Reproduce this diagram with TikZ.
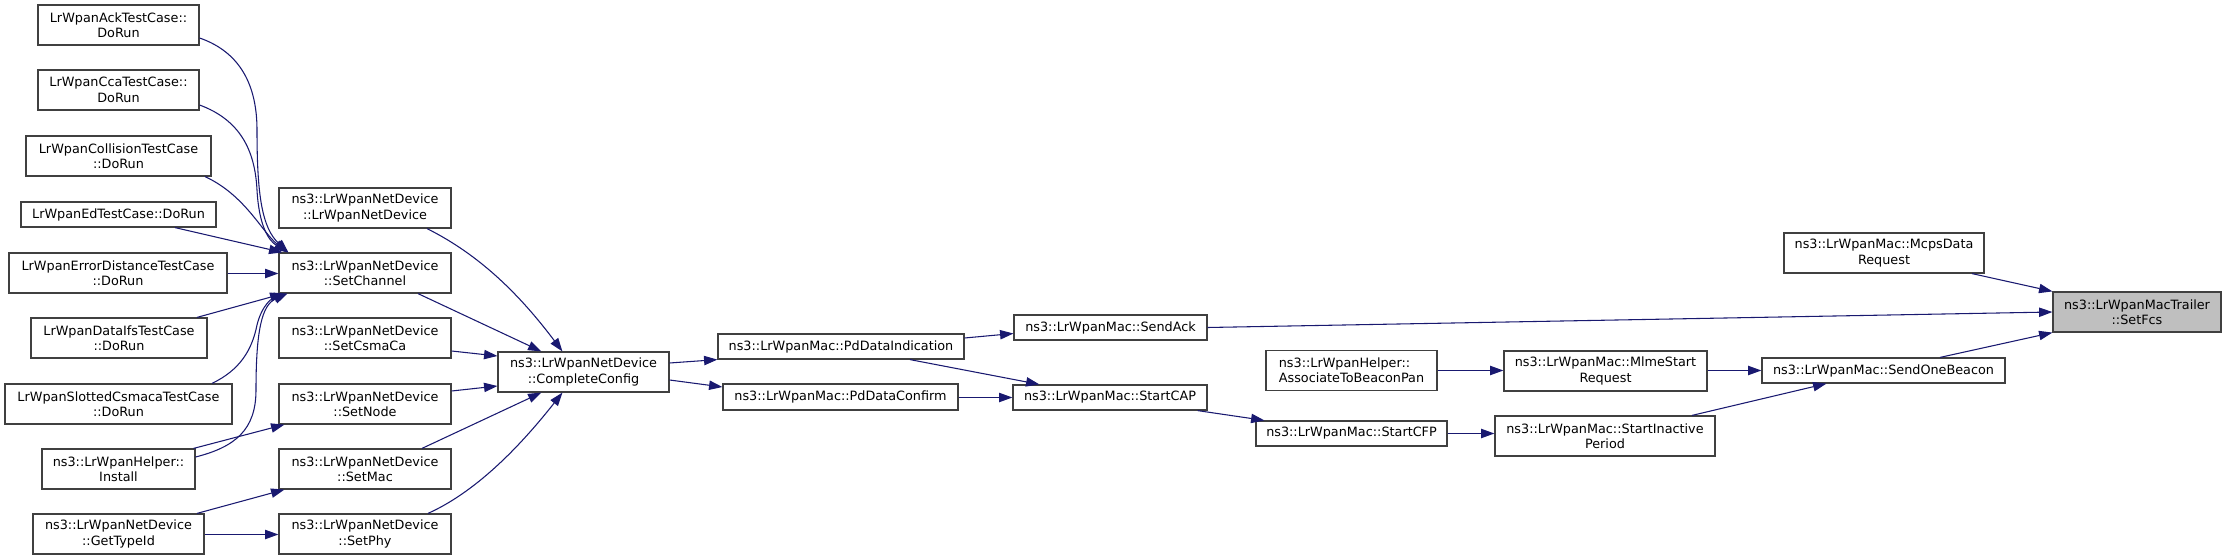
\documentclass[tikz,border=0pt]{standalone}
\usepackage{fontspec}
\setmainfont{DejaVu Sans}
\usetikzlibrary{calc,arrows.meta}
\definecolor{edgecol}{HTML}{191970}
\definecolor{boxline}{HTML}{404040}
\definecolor{hilite}{HTML}{BFBFBF}
\tikzset{
  box/.style={draw=boxline, line width=0.9pt, fill=white, inner sep=0pt, align=center,
    font=\fontsize{9.6pt}{11.5pt}\selectfont, text=black},
  wh/.style 2 args={minimum width=#1*0.75pt, minimum height=#2*0.75pt},
  conn/.style={draw=edgecol, line width=0.8pt, -{Triangle[length=10pt,width=7pt]}}
}
\begin{document}
\begin{tikzpicture}[x=0.75pt,y=-0.75pt]
\useasboundingbox (0,0) rectangle (2227,560);
% left column
\node[box,wh={161}{40}] (ack) at (118.5,25) {LrWpanAckTestCase::\\DoRun};
\node[box,wh={161}{40}] (cca) at (118.5,90) {LrWpanCcaTestCase::\\DoRun};
\node[box,wh={185}{40}] (coll) at (118.5,156) {LrWpanCollisionTestCase\\::DoRun};
\node[box,wh={195}{25}] (ed) at (118.5,214.5) {LrWpanEdTestCase::DoRun};
\node[box,wh={218}{40}] (errd) at (118,273) {LrWpanErrorDistanceTestCase\\::DoRun};
\node[box,wh={176}{40}] (dataifs) at (119,338) {LrWpanDataIfsTestCase\\::DoRun};
\node[box,wh={227}{40}] (slot) at (118.5,404) {LrWpanSlottedCsmacaTestCase\\::DoRun};
\node[box,wh={153}{40}] (install) at (118.5,469) {ns3::LrWpanHelper::\\Install};
\node[box,wh={171}{40}] (gettype) at (118.5,534) {ns3::LrWpanNetDevice\\::GetTypeId};
% second column
\node[box,wh={172}{40}] (ctor) at (365,208) {ns3::LrWpanNetDevice\\::LrWpanNetDevice};
\node[box,wh={172}{40}] (setchan) at (365,273) {ns3::LrWpanNetDevice\\::SetChannel};
\node[box,wh={172}{40}] (setcsma) at (365,338) {ns3::LrWpanNetDevice\\::SetCsmaCa};
\node[box,wh={172}{40}] (setnode) at (365,404) {ns3::LrWpanNetDevice\\::SetNode};
\node[box,wh={172}{40}] (setmac) at (365,469) {ns3::LrWpanNetDevice\\::SetMac};
\node[box,wh={172}{40}] (setphy) at (365,534) {ns3::LrWpanNetDevice\\::SetPhy};
% further columns
\node[box,wh={171}{40}] (complete) at (583.5,372) {ns3::LrWpanNetDevice\\::CompleteConfig};
\node[box,wh={246}{25}] (pdind) at (841,346.5) {ns3::LrWpanMac::PdDataIndication};
\node[box,wh={235}{26}] (pdconf) at (840.5,397) {ns3::LrWpanMac::PdDataConfirm};
\node[box,wh={193}{25}] (sendack) at (1110.5,327.5) {ns3::LrWpanMac::SendAck};
\node[box,wh={194}{25}] (startcap) at (1110,397.5) {ns3::LrWpanMac::StartCAP};
\node[box,wh={171}{40},align=left] (assoc) at (1351.5,370.5) {ns3::LrWpanHelper::\\AssociateToBeaconPan};
\node[box,wh={191}{25}] (startcfp) at (1351.5,433.5) {ns3::LrWpanMac::StartCFP};
\node[box,wh={203}{40}] (mlme) at (1605.5,371) {ns3::LrWpanMac::MlmeStart\\Request};
\node[box,wh={220}{40}] (inactive) at (1605,436) {ns3::LrWpanMac::StartInactive\\Period};
\node[box,wh={200}{40}] (mcps) at (1884,253) {ns3::LrWpanMac::McpsData\\Request};
\node[box,wh={243}{25}] (sendbeacon) at (1883.5,370.5) {ns3::LrWpanMac::SendOneBeacon};
\node[box,wh={168}{40},fill=hilite] (setfcs) at (2137,312) {ns3::LrWpanMacTrailer\\::SetFcs};
% connectors into SetChannel
\draw[conn] ($(ack.east)+(0,13)$) .. controls (240,52) and (257,85) .. (257,130)
   .. controls (257,195) and (262,228) .. ($(setchan.north west)+(10,0)$);
\draw[conn] ($(cca.east)+(0,15)$) .. controls (240,120) and (255,150) .. (257,190)
   .. controls (259,225) and (268,240) .. ($(setchan.north west)+(9,0)$);
\draw[conn] ($(coll.south)+(86.5,0)$) .. controls (245,195) and (262,232) .. ($(setchan.north west)+(9,0)$);
\draw[conn] ($(ed.south)+(56.5,0)$) -- ($(setchan.north west)+(4,0)$);
\draw[conn] ($(errd.east)+(0,0.5)$) -- ($(setchan.west)+(0,0.5)$);
\draw[conn] ($(dataifs.north)+(78,0)$) -- ($(setchan.south west)+(5,0)$);
\draw[conn] ($(slot.north)+(93.5,0)$) .. controls (240,370) and (252,350) .. (257,325)
   .. controls (262,305) and (272,298) .. ($(setchan.south west)+(9,0)$);
\draw[conn] ($(install.east)+(0,-12)$) .. controls (235,447) and (256,430) .. (256,390)
   .. controls (256,330) and (262,305) .. ($(setchan.south west)+(9,0)$);
\draw[conn] ($(install.north east)+(-2,0)$) -- ($(setnode.south west)+(6,0)$);
\draw[conn] ($(gettype.north)+(78.5,0)$) -- ($(setmac.south west)+(6,0)$);
\draw[conn] ($(gettype.east)+(0,0.5)$) -- ($(setphy.west)+(0,0.5)$);
% connectors into CompleteConfig
\draw[conn] ($(ctor.south)+(62,0)$) .. controls (480,255) and (520,295) .. ($(complete.north west)+(65,0)$);
\draw[conn] ($(setchan.south)+(53,0)$) -- ($(complete.north west)+(44,0)$);
\draw[conn] ($(setcsma.east)+(0,13)$) -- ($(complete.west)+(0,-16)$);
\draw[conn] ($(setnode.east)+(0,-13)$) -- ($(complete.west)+(0,14)$);
\draw[conn] ($(setmac.north)+(57,0)$) -- ($(complete.south west)+(44,0)$);
\draw[conn] ($(setphy.north)+(63,0)$) .. controls (480,490) and (525,440) .. ($(complete.south west)+(65,0)$);
% onward
\draw[conn] ($(complete.east)+(0,-9)$) -- (pdind.south west);
\draw[conn] ($(complete.east)+(0,8)$) -- ($(pdconf.west)+(0,-10)$);
\draw[conn] ($(pdind.east)+(0,-8.5)$) -- ($(sendack.west)+(0,6)$);
\draw[conn] ($(pdind.south)+(69,0)$) -- ($(startcap.north west)+(27,0)$);
\draw[conn] (startcap.west -| pdconf.east) -- (startcap.west);
\draw[conn] ($(startcap.south east)+(-10,0)$) -- ($(startcfp.north west)+(9,0)$);
\draw[conn] (assoc.east) -- (assoc.east -| mlme.west);
\draw[conn] (startcfp.east) -- (startcfp.east -| inactive.west);
\draw[conn] (sendbeacon.west -| mlme.east) -- (sendbeacon.west);
\draw[conn] ($(inactive.north)+(87,0)$) -- ($(sendbeacon.south west)+(65,0)$);
\draw[conn] ($(mcps.south)+(88,0)$) -- (setfcs.north west);
\draw[conn] (sendack.east) -- (setfcs.west);
\draw[conn] ($(sendbeacon.north)+(56.5,0)$) -- (setfcs.south west);
\end{tikzpicture}
\end{document}
